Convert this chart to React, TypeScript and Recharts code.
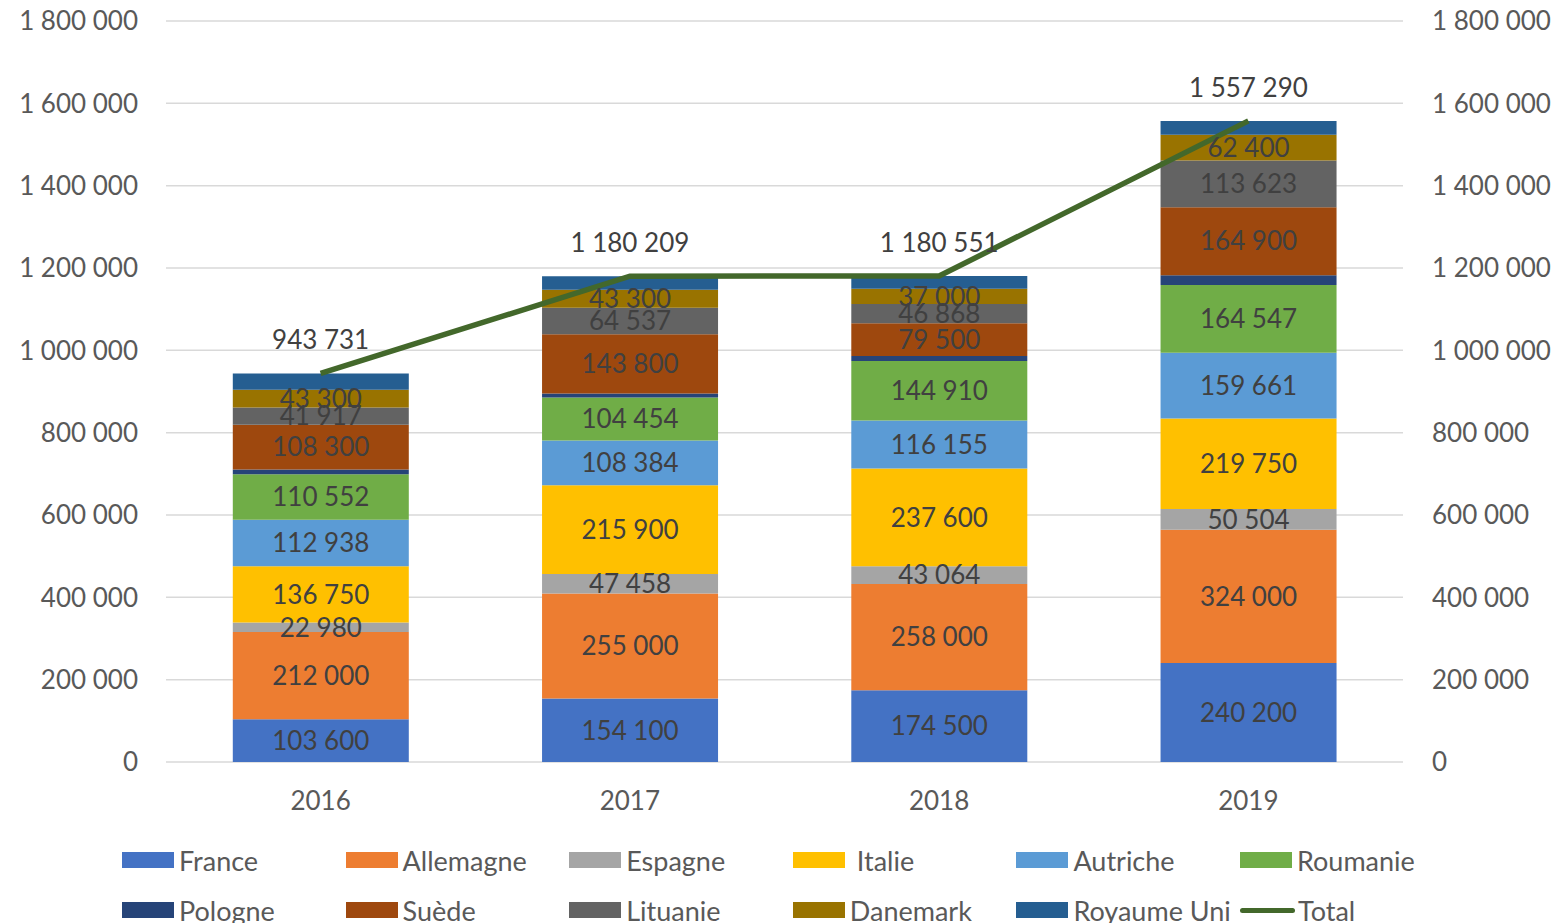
import React from 'react';
import { ComposedChart, Bar, Line, XAxis, YAxis, CartesianGrid, LabelList } from 'recharts';

const years = ['2016', '2017', '2018', '2019'];
const france = [103600, 154100, 174500, 240200];
const allemagne = [212000, 255000, 258000, 324000];
const espagne = [22980, 47458, 43064, 50504];
const italie = [136750, 215900, 237600, 219750];
const autriche = [112938, 108384, 116155, 159661];
const roumanie = [110552, 104454, 144910, 164547];
const pologne = [12000, 10000, 12000, 24000];
const suede = [108300, 143800, 79500, 164900];
const lituanie = [41917, 64537, 46868, 113623];
const danemark = [43300, 43300, 37000, 62400];
const royaumeUni = [39394, 33276, 30954, 33705];
const total = [943731, 1180209, 1180551, 1557290];
const yTicks = [0, 200000, 400000, 600000, 800000, 1000000, 1200000, 1400000, 1600000, 1800000];

const series = [
  { key: 'France', values: france, color: '#4472C4', label: true },
  { key: 'Allemagne', values: allemagne, color: '#ED7D31', label: true },
  { key: 'Espagne', values: espagne, color: '#A5A5A5', label: true },
  { key: 'Italie', values: italie, color: '#FFC000', label: true },
  { key: 'Autriche', values: autriche, color: '#5B9BD5', label: true },
  { key: 'Roumanie', values: roumanie, color: '#70AD47', label: true },
  { key: 'Pologne', values: pologne, color: '#264478', label: false },
  { key: 'Suède', values: suede, color: '#9E480E', label: true },
  { key: 'Lituanie', values: lituanie, color: '#636363', label: true },
  { key: 'Danemark', values: danemark, color: '#997300', label: true },
  { key: 'Royaume Uni', values: royaumeUni, color: '#255E91', label: false },
];

const data = years.map((year, i) => {
  const row: Record<string, string | number> = { year, Total: total[i] };
  series.forEach((s) => {
    row[s.key] = s.values[i];
  });
  return row;
});

const fmt = (v: number) => String(v).replace(/\B(?=(\d{3})+(?!\d))/g, ' ');

const FONT = 'Lato, "Open Sans", sans-serif';
const tickStyle = { fontSize: 26, fill: '#595959', fontFamily: FONT };
const labelStyle = { fontSize: 26, fill: '#404040', fontFamily: FONT };

const App: React.FC = () => {
  return (
    <div style={{ position: 'absolute', left: 0, top: 0, width: 1567, height: 923, background: '#fff', fontFamily: FONT, overflow: 'hidden' }}>
      <ComposedChart
        width={1567}
        height={830}
        data={data}
        margin={{ top: 21, right: 0, bottom: 28, left: 1 }}
        barCategoryGap="21.6%"
      >
        <CartesianGrid vertical={false} yAxisId="left" stroke="#D9D9D9" strokeWidth={1.5} />
        <XAxis
          dataKey="year"
          height={40}
          axisLine={false}
          tickLine={false}
          tickSize={0}
          tickMargin={30}
          tick={tickStyle}
        />
        <YAxis
          yAxisId="left"
          width={165}
          domain={[0, 1800000]}
          ticks={yTicks}
          axisLine={false}
          tickLine={false}
          tickSize={0}
          tickMargin={28}
          tickFormatter={fmt}
          tick={tickStyle}
        />
        <YAxis
          yAxisId="right"
          orientation="right"
          width={164}
          domain={[0, 1800000]}
          ticks={yTicks}
          axisLine={false}
          tickLine={false}
          tickSize={0}
          tickMargin={29}
          tickFormatter={fmt}
          tick={tickStyle}
        />
        {series.map((s) => (
          <Bar key={s.key} dataKey={s.key} stackId="a" yAxisId="left" fill={s.color} isAnimationActive={false}>
            {s.label && (
              <LabelList dataKey={s.key} position="center" formatter={(v: number) => fmt(v)} style={labelStyle} />
            )}
          </Bar>
        ))}
        <Line
          dataKey="Total"
          yAxisId="right"
          type="linear"
          stroke="#43682B"
          strokeWidth={5.5}
          dot={false}
          isAnimationActive={false}
        >
          <LabelList dataKey="Total" position="top" offset={24} formatter={(v: number) => fmt(v)} style={labelStyle} />
        </Line>
      </ComposedChart>
      {[...series.map((s) => ({ key: s.key, color: s.color, line: false })), { key: 'Total', color: '#43682B', line: true }].map(
        (item, i) => {
          const col = i % 6;
          const row = Math.floor(i / 6);
          const left = 122 + col * 223.6;
          const top = 860 + row * 50;
          return (
            <div
              key={item.key}
              style={{ position: 'absolute', left, top: top - 16, height: 32, display: 'flex', alignItems: 'center', whiteSpace: 'nowrap' }}
            >
              {item.line ? (
                <div style={{ width: 55, height: 5, background: item.color, borderRadius: 3, marginRight: 3 }} />
              ) : (
                <div style={{ width: 52, height: 16, background: item.color, marginRight: item.key === 'Italie' ? 12 : 5 }} />
              )}
              <span style={{ fontSize: 27, color: '#595959', fontFamily: FONT }}>{item.key}</span>
            </div>
          );
        }
      )}
    </div>
  );
};

export default App;
